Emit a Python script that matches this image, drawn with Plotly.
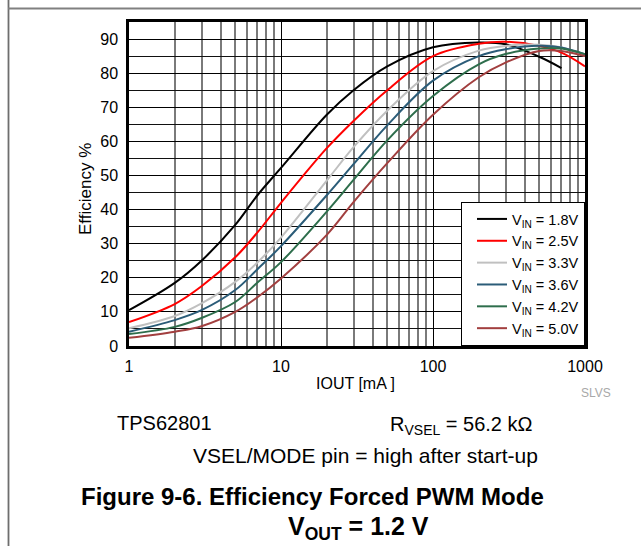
import plotly.graph_objects as go

# ---- data ----
iout_ma = [1, 2, 3, 5, 7, 10, 20, 30, 50, 100, 200, 300, 500, 700, 1000]
iout_18 = [1, 2, 3, 5, 7, 10, 20, 30, 50, 100, 200, 300, 500, 700]

eff_18 = [10.5, 18.5, 25.0, 35.5, 44.2, 52.2, 67.8, 75.0, 82.0, 87.6, 89.0, 88.5, 84.8, 81.5]
eff_25 = [7.0, 12.3, 17.5, 26.0, 33.3, 42.0, 58.0, 66.0, 75.0, 85.0, 88.6, 89.2, 88.0, 86.0, 82.0]
eff_33 = [5.2, 8.8, 12.5, 18.8, 24.5, 31.8, 48.5, 58.3, 69.0, 80.6, 86.6, 88.0, 88.3, 87.5, 85.0]
eff_36 = [4.2, 7.6, 10.5, 16.4, 22.5, 29.3, 44.2, 53.3, 64.7, 77.8, 85.0, 87.0, 88.0, 87.5, 85.5]
eff_42 = [3.5, 5.6, 8.2, 12.9, 18.6, 24.6, 39.4, 48.7, 60.3, 73.3, 82.6, 85.6, 87.2, 87.2, 85.5]
eff_50 = [2.4, 4.2, 5.8, 10.0, 14.3, 19.8, 32.6, 42.2, 53.6, 67.8, 78.8, 83.1, 86.5, 86.5, 85.0]

series_names = ["V<sub>IN</sub> = 1.8V", "V<sub>IN</sub> = 2.5V", "V<sub>IN</sub> = 3.3V",
                "V<sub>IN</sub> = 3.6V", "V<sub>IN</sub> = 4.2V", "V<sub>IN</sub> = 5.0V"]
series_x = [iout_18, iout_ma, iout_ma, iout_ma, iout_ma, iout_ma]
series_y = [eff_18, eff_25, eff_33, eff_36, eff_42, eff_50]
series_colors = ["#000000", "#ff0000", "#c0c0c0", "#2b5c78", "#2e6e4c", "#a23f3f"]

x_tickvals = [1, 10, 100, 1000]
x_ticktext = ["1", "10", "100", "1000"]
x_minor = [2, 3, 4, 5, 6, 7, 8, 9, 20, 30, 40, 50, 60, 70, 80, 90,
           200, 300, 400, 500, 600, 700, 800, 900]
y_tickvals = [0, 10, 20, 30, 40, 50, 60, 70, 80, 90]

FONT = "Liberation Sans, Arial, sans-serif"

W, H = 641, 546
L, R, T, B = 129, 56, 22, 200
PW, PH = W - L - R, H - T - B


def px(xpix):
    return (xpix - L) / PW


def py(ypix):
    return (H - B - ypix) / PH


fig = go.Figure()
for name, xs, ys, col in zip(series_names, series_x, series_y, series_colors):
    fig.add_trace(go.Scatter(
        x=xs, y=ys, mode="lines", name=name,
        line=dict(color=col, width=2, shape="spline", smoothing=1.0),
    ))

fig.update_layout(
    width=W, height=H,
    margin=dict(l=L, r=R, t=T, b=B),
    paper_bgcolor="white", plot_bgcolor="white",
    font=dict(family=FONT, size=16, color="#000"),
    showlegend=True,
    legend=dict(
        x=1, xanchor="right", y=0, yanchor="bottom",
        bgcolor="white", bordercolor="#000", borderwidth=1,
        font=dict(family=FONT, size=14.5, color="#000"),
        itemwidth=30, tracegroupgap=0, indentation=10,
    ),
    xaxis=dict(
        type="log", range=[0, 3],
        tickmode="array", tickvals=x_tickvals, ticktext=x_ticktext,
        showgrid=True, gridcolor="#000", gridwidth=1,
        minor=dict(tickmode="array", tickvals=x_minor, showgrid=True,
                   gridcolor="#7a7a7a", gridwidth=1.6, ticks=""),
        showline=True, linecolor="#000", linewidth=2.5, mirror=True,
        ticks="", zeroline=False, ticklabelstandoff=4,
        tickfont=dict(family=FONT, size=16),
    ),
    yaxis=dict(
        range=[0, 95],
        tickmode="array", tickvals=y_tickvals,
        showgrid=True, gridcolor="#000", gridwidth=1,
        minor=dict(dtick=5, showgrid=True, gridcolor="#111", gridwidth=1, ticks=""),
        showline=True, linecolor="#000", linewidth=2.5, mirror=True,
        ticks="", zeroline=False, ticklabelstandoff=5,
        tickfont=dict(family=FONT, size=16),
    ),
)

annos = [
    dict(text="Efficiency %", x=px(85), y=py(189), textangle=-90, font=dict(size=17)),
    dict(text="IOUT [mA ]", x=px(355), y=py(383), font=dict(size=16)),
    dict(text="SLVS", x=px(596), y=py(393), font=dict(size=12, color="#a8a8a8")),
    dict(text="TPS62801", x=px(164), y=py(423), font=dict(size=20)),
    dict(text="R<sub>VSEL</sub> = 56.2 kΩ", x=px(461), y=py(425), font=dict(size=20)),
    dict(text="VSEL/MODE pin = high after start-up", x=px(365), y=py(455), font=dict(size=21)),
    dict(text="<b>Figure 9-6. Efficiency Forced PWM Mode</b>", x=px(312), y=py(496),
         font=dict(size=24)),
    dict(text="<b>V<sub>OUT</sub> = 1.2 V</b>", x=px(358), y=py(528), font=dict(size=25)),
]
for a in annos:
    f = dict(family=FONT, color="#000")
    f.update(a.pop("font"))
    fig.add_annotation(xref="paper", yref="paper", showarrow=False,
                       xanchor="center", yanchor="middle", font=f, **a)

# page frame lines
fig.add_shape(type="line", xref="paper", yref="paper",
              x0=px(8.5), x1=px(8.5), y0=py(0), y1=py(H),
              line=dict(color="#6e6e6e", width=1.8))
fig.add_shape(type="line", xref="paper", yref="paper",
              x0=px(8), x1=px(W), y0=py(8.5), y1=py(8.5),
              line=dict(color="#808080", width=1.8))

fig.write_html("out.html")
